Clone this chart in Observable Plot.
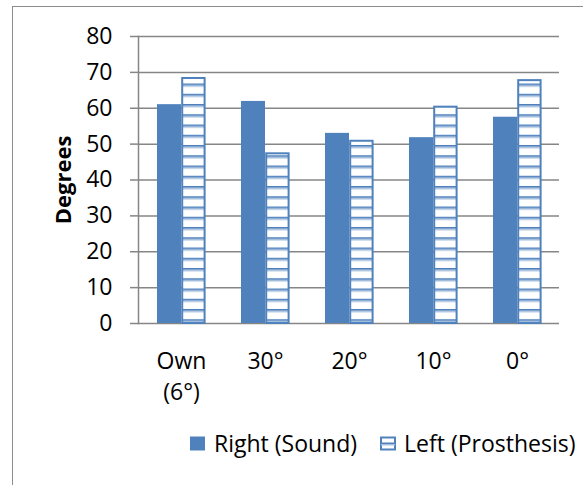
<!DOCTYPE html>
<html><head><meta charset="utf-8">
<script src="https://cdn.jsdelivr.net/npm/d3@7"></script>
<script src="https://cdn.jsdelivr.net/npm/@observablehq/plot@0.6"></script>
<style>
body{margin:0;background:#fff;overflow:hidden;font-family:"Open Sans",sans-serif;}
#wrap{position:relative;width:583px;height:485px;overflow:hidden;}
#border{position:absolute;left:12px;top:6px;width:640px;height:540px;border:1.5px solid #8c8c8c;box-sizing:border-box;}
#chart{position:absolute;left:0;top:0;}
#legend{position:absolute;left:190px;top:431px;display:flex;align-items:center;font-size:23px;line-height:24px;color:#000;white-space:nowrap;}
.item{display:flex;align-items:center;}
.item svg{margin-right:8px;}
</style></head>
<body><div id="wrap"><div id="border"></div><div id="chart"></div><div id="legend"></div></div>
<script>
const categories = ["Own\n(6°)", "30°", "20°", "10°", "0°"];
const rightSound = [61.0, 61.9, 53.0, 51.8, 57.5];
const leftProsthesis = [68.3, 47.3, 50.8, 60.3, 67.7];
const seriesNames = ["Right (Sound)", "Left (Prosthesis)"];
const yTicks = [0, 10, 20, 30, 40, 50, 60, 70, 80];
const yLabel = "Degrees";

const blue = "#4F81BD", light = "#A9C1DF", grid = "#868686";
const rows = categories.map((c, i) => ({category: c, right: rightSound[i], left: leftProsthesis[i]}));

const chart = Plot.plot({
  width: 583, height: 415,
  marginLeft: 138, marginRight: 24, marginTop: 36, marginBottom: 92,
  style: {fontFamily: '"Open Sans", sans-serif', fontSize: "23px", color: "#000", background: "transparent", overflow: "visible"},
  x: {domain: categories, padding: 0, label: null},
  y: {domain: [0, 80], label: null},
  marks: [
    Plot.gridY(yTicks, {stroke: grid, strokeOpacity: 1, strokeWidth: 1.5}),
    Plot.axisY(yTicks, {tickSize: 8, tickPadding: 18, stroke: grid, strokeWidth: 1.5, label: null}),
    Plot.frame({anchor: "left", stroke: grid, strokeWidth: 1.5}),
    Plot.barY(rows, {x: "category", y: "right", fill: blue, insetLeft: 18, insetRight: 42}),
    Plot.barY(rows, {x: "category", y: "left", fill: "url(#hatch)", stroke: blue, strokeWidth: 2, insetLeft: 43.2, insetRight: 18.4}),
    Plot.axisX({tickSize: 0, tickPadding: 23, label: null, lineHeight: 1.35}),
    Plot.text([yLabel], {text: d => d, frameAnchor: "left", textAnchor: "middle", dx: -75, rotate: -90, fontWeight: "bold", fontSize: 22})
  ]
});

const defs = d3.select(chart).insert("defs", ":first-child");
const pat = defs.append("pattern").attr("id", "hatch").attr("patternUnits", "userSpaceOnUse")
  .attr("x", 0).attr("y", 323).attr("width", 8).attr("height", 10.25);
pat.append("rect").attr("width", 8).attr("height", 10.25).attr("fill", "#fff");
pat.append("rect").attr("y", 6.5).attr("width", 8).attr("height", 1.7).attr("fill", blue);
pat.append("rect").attr("y", 8.2).attr("width", 8).attr("height", 1.6).attr("fill", light);
document.getElementById("chart").appendChild(chart);

// legend
const legend = d3.select("#legend");
seriesNames.forEach((name, i) => {
  const item = legend.append("div").attr("class", "item").style("margin-right", i === 0 ? "23px" : "0");
  const s = item.append("svg").attr("width", 16).attr("height", 15);
  if (i === 0) {
    s.append("rect").attr("x", 0).attr("y", 0.5).attr("width", 15).attr("height", 14).attr("fill", blue);
  } else {
    s.append("rect").attr("x", 1).attr("y", 1.5).attr("width", 14).attr("height", 12).attr("fill", "#fff").attr("stroke", blue).attr("stroke-width", 2);
    s.append("rect").attr("x", 1).attr("y", 6.5).attr("width", 14).attr("height", 1.5).attr("fill", blue);
    s.append("rect").attr("x", 1).attr("y", 8).attr("width", 14).attr("height", 1.5).attr("fill", light);
  }
  item.append("span").text(name);
});
</script>
</body></html>
